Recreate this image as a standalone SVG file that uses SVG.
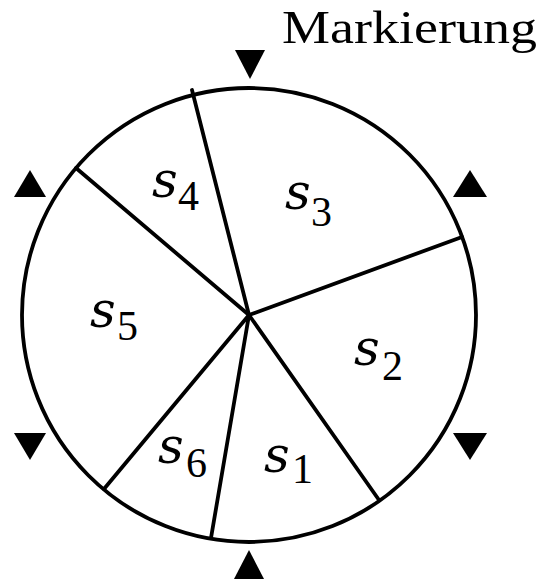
<svg xmlns="http://www.w3.org/2000/svg" width="541" height="579" viewBox="0 0 541 579">
<style>
.ln{stroke:#000;stroke-width:3.8;fill:none;stroke-linecap:round}
.tri{fill:#000}
.s{font-family:"DejaVu Serif",serif;font-style:italic;font-size:50px;fill:#000}
.d{font-family:"Liberation Serif",serif;font-size:42px;fill:#000}
.t{font-family:"Liberation Serif",serif;font-size:46px;fill:#000}
</style>
<rect width="541" height="579" fill="#fff"/>
<g id="wheel">
<circle class="ln" cx="249" cy="315" r="227"/>
</g>
<g id="connectors">
<line class="ln" x1="249" y1="315" x2="192" y2="90"/>
<line class="ln" x1="249" y1="315" x2="462" y2="237"/>
<line class="ln" x1="249" y1="315" x2="379" y2="500"/>
<line class="ln" x1="249" y1="315" x2="211" y2="538"/>
<line class="ln" x1="249" y1="315" x2="104" y2="489"/>
<line class="ln" x1="249" y1="315" x2="76" y2="168"/>
</g>
<g id="markers">
<polygon class="tri" points="235,50 265,50 250,79"/>
<polygon class="tri" points="234,579 264,579 249,550"/>
<polygon class="tri" points="14,197 46,197 30,170"/>
<polygon class="tri" points="14,433 46,433 30,460"/>
<polygon class="tri" points="453,197 487,197 470,170"/>
<polygon class="tri" points="453,433 487,433 470,460"/>
</g>
<g id="s1"><text class="s" x="264" y="472">s</text><text class="d" x="292" y="483">1</text></g>
<g id="s2"><text class="s" x="354" y="365">s</text><text class="d" x="382" y="380">2</text></g>
<g id="s3"><text class="s" x="285" y="209">s</text><text class="d" x="311" y="226">3</text></g>
<g id="s4"><text class="s" x="152" y="197">s</text><text class="d" x="178" y="210">4</text></g>
<g id="s5"><text class="s" x="90" y="327">s</text><text class="d" x="117" y="340">5</text></g>
<g id="s6"><text class="s" x="158" y="463">s</text><text class="d" x="186" y="477">6</text></g>
<g id="label"><text class="t" x="282" y="43" textLength="255" lengthAdjust="spacingAndGlyphs">Markierung</text></g>
</svg>
